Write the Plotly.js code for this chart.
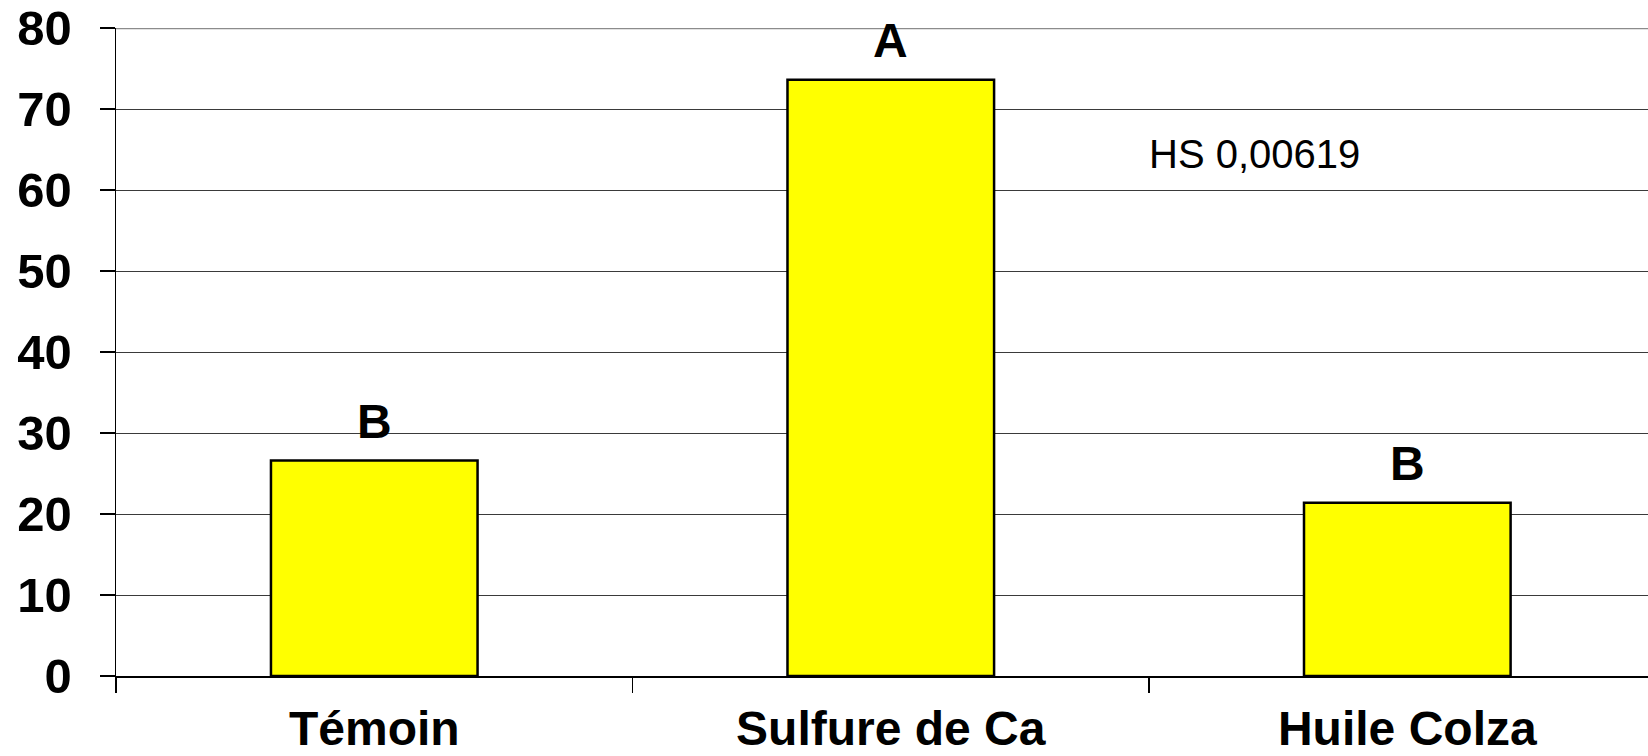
<!DOCTYPE html>
<html>
<head>
<meta charset="utf-8">
<script src="https://cdn.plot.ly/plotly-3.0.1.min.js"></script>
<style>
  html, body { margin: 0; padding: 0; background: #fff; }
  #chart { width: 1648px; height: 756px; }
</style>
</head>
<body>
<div id="chart"></div>
<script>
// data
var categories = ['Témoin', 'Sulfure de Ca', 'Huile Colza'];
var values = [26.6, 73.6, 21.4];
var groups = ['B', 'A', 'B'];

var font = 'Arial, "Liberation Sans", sans-serif';

var trace = {
  type: 'bar',
  x: categories,
  y: values,
  width: 0.4,
  marker: {
    color: '#FFFF00',
    line: { color: '#000000', width: 2.5 }
  },
  hoverinfo: 'none'
};

// letter above each bar
var annotations = categories.map(function (c, i) {
  return {
    x: c, y: values[i], text: groups[i],
    showarrow: false, yanchor: 'bottom', yshift: 11,
    font: { family: font, size: 48, color: '#000', weight: 'bold' }
  };
});
annotations.push({
  xref: 'paper', yref: 'paper', x: 0.813, y: 0.843,
  text: 'HS 0,00619', showarrow: false,
  font: { family: font, size: 40, color: '#000' }
});

var layout = {
  width: 1648,
  height: 756,
  margin: { l: 116, r: 0, t: 28, b: 80 },
  paper_bgcolor: '#fff',
  plot_bgcolor: '#fff',
  showlegend: false,
  bargap: 0,
  font: { family: font, color: '#000' },
  xaxis: {
    range: [-0.5, 2.466],
    tickson: 'boundaries',
    ticks: 'outside',
    ticklen: 15,
    tickwidth: 1.5,
    tickcolor: '#000',
    showline: true,
    linecolor: '#000',
    linewidth: 1.5,
    showgrid: false,
    tickfont: { family: font, size: 48, color: '#000', weight: 'bold' },
    ticklabelstandoff: 10
  },
  yaxis: {
    range: [0, 80],
    dtick: 10,
    ticks: 'outside',
    ticklen: 15,
    tickwidth: 1.5,
    tickcolor: '#000',
    showline: true,
    linecolor: '#000',
    linewidth: 1.5,
    gridcolor: '#3a3a3a',
    gridwidth: 1,
    zeroline: false,
    tickfont: { family: font, size: 49, color: '#000', weight: 'bold' },
    ticklabelstandoff: 18
  },
  shapes: [{
    type: 'line', xref: 'paper', yref: 'y', x0: 0, x1: 1, y0: 80, y1: 80,
    line: { color: '#8c8c8c', width: 2.5 }
  }],
  annotations: annotations
};

Plotly.newPlot('chart', [trace], layout, { staticPlot: true });
</script>
</body>
</html>
